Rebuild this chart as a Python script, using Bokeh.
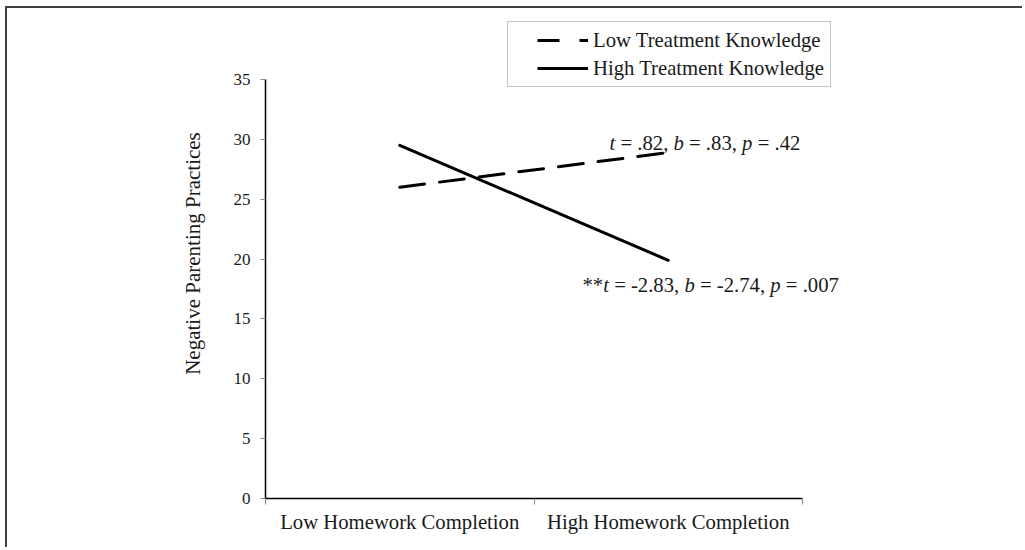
from bokeh.plotting import figure
from bokeh.models import Range1d, FixedTicker, Legend, LegendItem, Label
from bokeh.embed import file_html
from bokeh.resources import INLINE

# ---------------- data ----------------
categories = ["Low Homework Completion", "High Homework Completion"]
series_names = ["Low Treatment Knowledge", "High Treatment Knowledge"]
low_knowledge = [26.0, 28.9]
high_knowledge = [29.5, 19.9]
y_ticks = [0, 5, 10, 15, 20, 25, 30, 35]
y_label = "Negative Parenting Practices"
# annotation pieces: (text, italic)
note_low = [("t", True), (" = .82, ", False), ("b", True), (" = .83, ", False),
            ("p", True), (" = .42", False)]
note_high = [("**", False), ("t", True), (" = -2.83, ", False), ("b", True),
             (" = -2.74, ", False), ("p", True), (" = .007", False)]

# ---------------- layout (window pixels) ----------------
FONT = "Liberation Serif"
FS = 20.7
BW = 2                   # width of the frame lines at top/left
OX, OY = 7, 8            # canvas origin in window
W, H = 1017, 541
FL, FR, FT, FB = 265, 802, 79, 498   # axis extents in window pixels
YMAX = y_ticks[-1]
NCAT = len(categories)
# frame spans to the canvas top and right; axes are bounded to the data extent
y_end = YMAX * (FB - OY) / (FB - FT)
x_end = NCAT * (OX + W - FL) / (FR - FL)

p = figure(width=W, height=H,
           x_range=Range1d(0, x_end), y_range=Range1d(0, y_end),
           output_backend="svg", toolbar_location=None,
           min_border_left=FL - OX, min_border_right=0,
           min_border_top=0, min_border_bottom=OY + H - FB)
p.styles = {"margin-left": f"{OX}px", "margin-top": f"{OY}px",
            "box-shadow": f"-{BW}px -{BW}px 0 0 #404040"}
p.outline_line_color = None
p.xgrid.visible = False
p.ygrid.visible = False
p.background_fill_color = "white"
p.border_fill_color = "white"
p.border_fill_alpha = 1

xs = [i + 0.5 for i in range(NCAT)]

r_low = p.line(xs, low_knowledge, line_color="black", line_width=3,
               line_dash="25 15", line_cap="round")
r_high = p.line(xs, high_knowledge, line_color="black", line_width=3, line_cap="round")

# legend sample renderers (single vertex -> nothing drawn in the plot)
d_low = p.line(xs[:1], low_knowledge[:1], line_color="black", line_width=3,
               line_dash="0 23 22 20 9 300")
d_high = p.line(xs[:1], high_knowledge[:1], line_color="black", line_width=3,
                line_dash="0 23 51 300")

# ---------------- axes ----------------
yax = p.yaxis[0]
yax.ticker = FixedTicker(ticks=y_ticks)
yax.bounds = (0, YMAX)
yax.axis_line_color = "black"
yax.axis_line_width = 1.5
yax.major_tick_line_color = "#8a8a8a"
yax.major_tick_in = 0
yax.major_tick_out = 5
yax.minor_tick_line_color = None
yax.major_label_text_font = FONT
yax.major_label_text_font_size = "17px"
yax.major_label_text_color = "#1a1a1a"
yax.major_label_standoff = 10
yax.axis_label = y_label
yax.axis_label_text_font = FONT
yax.axis_label_text_font_size = "21px"
yax.axis_label_text_font_style = "normal"
yax.axis_label_text_color = "#1a1a1a"
yax.axis_label_standoff = 26

xax = p.xaxis[0]
xax.ticker = FixedTicker(ticks=xs, minor_ticks=list(range(NCAT + 1)))
xax.bounds = (0, NCAT)
xax.major_label_overrides = {x: c for x, c in zip(xs, categories)}
xax.axis_line_color = "black"
xax.axis_line_width = 1.5
xax.major_tick_line_color = None
xax.minor_tick_line_color = "#8a8a8a"
xax.minor_tick_in = 0
xax.minor_tick_out = 6
xax.major_label_text_font = FONT
xax.major_label_text_font_size = f"{FS}px"
xax.major_label_text_color = "#1a1a1a"
xax.major_label_standoff = 6

# ---------------- legend ----------------
LEG_L, LEG_T = 507, 23
PAD, ROW, SP = 6, 24, 4
leg_h = 2 * PAD + 2 * ROW + SP
legend = Legend(items=[LegendItem(label=series_names[0], renderers=[d_low]),
                       LegendItem(label=series_names[1], renderers=[d_high])],
                location=(LEG_L - FL, FB - LEG_T - leg_h),
                glyph_width=74, glyph_height=ROW, label_height=ROW,
                label_standoff=5, padding=PAD, spacing=SP, margin=0,
                border_line_color="#8c8c8c", border_line_width=1,
                background_fill_color="white", background_fill_alpha=1,
                label_text_font=FONT, label_text_font_size=f"{FS}px",
                label_text_color="#1a1a1a")
p.add_layout(legend)

# ---------------- annotations ----------------
TIMES_W = {'t': 278, 'b': 500, 'p': 500, ' ': 250, '=': 564, '.': 250, ',': 250,
           '-': 333, '*': 500, '0': 500, '2': 500, '3': 500, '4': 500, '7': 500, '8': 500}


def width(s):
    return sum(TIMES_W.get(ch, 500) for ch in s) * FS / 1000.0


def add_note(pieces, left, baseline):
    cx = left - FL
    for txt, ital in pieces:
        core = txt.strip()
        lead = txt[:len(txt) - len(txt.lstrip())]
        p.add_layout(Label(x=cx + width(lead), y=FB - baseline,
                           x_units="screen", y_units="screen",
                           text=core, text_font=FONT, text_font_size=f"{FS}px",
                           text_font_style="italic" if ital else "normal",
                           text_color="#1a1a1a", text_baseline="alphabetic",
                           text_align="left"))
        cx += width(txt)


add_note(note_low, 609, 142)
add_note(note_high, 582, 284)

open("out.html", "w").write(file_html(p, INLINE))
